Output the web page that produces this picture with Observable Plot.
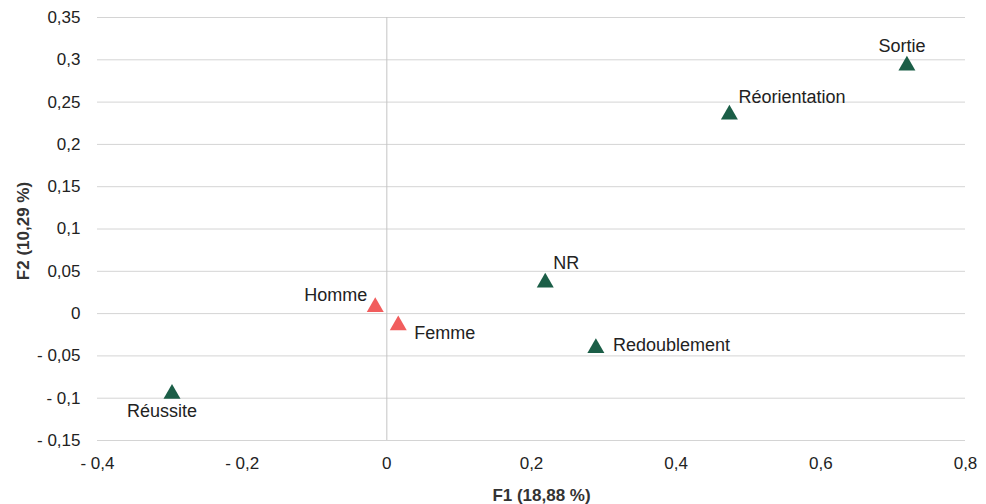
<!DOCTYPE html>
<html>
<head>
<meta charset="utf-8">
<script src="https://cdn.jsdelivr.net/npm/d3@7"></script>
<script src="https://cdn.jsdelivr.net/npm/@observablehq/plot@0.6"></script>
<style>
  html, body { margin: 0; padding: 0; background: #fff; }
  #chart svg { display: block; }
</style>
</head>
<body>
<div id="chart"></div>
<script>
// Data
const labels = ["Sortie", "Réorientation", "NR", "Redoublement", "Réussite", "Homme", "Femme"];
const f1 = [0.719, 0.4736, 0.219, 0.289, -0.297, -0.016, 0.0158];
const f2 = [0.296, 0.238, 0.0396, -0.0378, -0.092, 0.0105, -0.011];
const groups = ["parcours", "parcours", "parcours", "parcours", "parcours", "sexe", "sexe"];
const xTicks = [-0.4, -0.2, 0, 0.2, 0.4, 0.6, 0.8];
const yTicks = [-0.15, -0.1, -0.05, 0, 0.05, 0.1, 0.15, 0.2, 0.25, 0.3, 0.35];
const xTitle = "F1 (18,88 %)";
const yTitle = "F2 (10,29 %)";

const rows = labels.map((l, i) => ({label: l, x: f1[i], y: f2[i], group: groups[i]}));

// label placement (presentation only)
const place = {
  "Sortie":        {anchor: "middle", dx: -5,  dy: -17},
  "Réorientation": {anchor: "start",  dx: 9,   dy: -15},
  "NR":            {anchor: "start",  dx: 8,   dy: -16.5},
  "Redoublement":  {anchor: "start",  dx: 17,  dy: 0},
  "Réussite":      {anchor: "middle", dx: -10, dy: 20},
  "Homme":         {anchor: "end",    dx: -8,  dy: -9.5},
  "Femme":         {anchor: "start",  dx: 16,  dy: 10}
};

const fmt = d => {
  if (Math.abs(d) < 1e-9) return "0";
  const s = d3.format(".2~f")(Math.abs(d)).replace(".", ",");
  return (d < 0 ? "- " : "") + s;
};

const font = "'Liberation Sans', Arial, sans-serif";

const labelMarks = rows.map(r => Plot.text([r], {
  x: "x", y: "y", text: "label",
  textAnchor: place[r.label].anchor,
  dx: place[r.label].dx, dy: place[r.label].dy,
  fontSize: 18, fill: "#222"
}));

const chart = Plot.plot({
  width: 986,
  height: 504,
  marginLeft: 97,
  marginRight: 21,
  marginTop: 17,
  marginBottom: 64,
  style: {fontFamily: font, fontSize: "17px", color: "#222", background: "#fff"},
  x: {domain: [-0.4, 0.8]},
  y: {domain: [-0.15, 0.35]},
  color: {domain: ["parcours", "sexe"], range: ["#1b5e47", "#f15d5d"]},
  marks: [
    Plot.gridY(yTicks, {stroke: "#d4d4d4", strokeOpacity: 1, strokeWidth: 1}),
    Plot.ruleX([0], {stroke: "#c4c4c4", strokeWidth: 1}),
    Plot.axisY(yTicks, {tickSize: 0, tickPadding: 17, tickFormat: fmt, label: null, fontSize: 17}),
    Plot.axisX(xTicks, {tickSize: 0, tickPadding: 16, tickFormat: fmt, label: null, fontSize: 17}),
    Plot.text([xTitle], {frameAnchor: "bottom", textAnchor: "middle", lineAnchor: "middle", dx: 10, dy: 55, fontWeight: "bold", fontSize: 17, fill: "#333"}),
    Plot.text([yTitle], {frameAnchor: "left", textAnchor: "middle", lineAnchor: "middle", dx: -74, dy: 2, rotate: -90, fontWeight: "bold", fontSize: 17, fill: "#333"}),
    Plot.dot(rows, {x: "x", y: "y", symbol: "triangle", r: 6.3, fill: "group", stroke: null, dy: 2.4}),
    ...labelMarks
  ]
});

document.getElementById("chart").appendChild(chart);
</script>
</body>
</html>
